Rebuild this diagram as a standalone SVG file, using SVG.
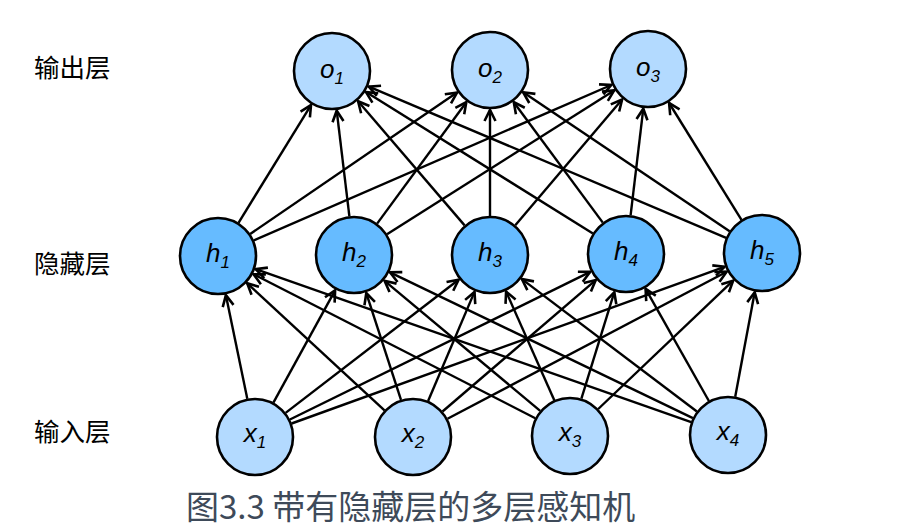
<svg xmlns="http://www.w3.org/2000/svg" width="923" height="530" viewBox="0 0 923 530">
<style>
.e{stroke:#000;stroke-width:2.4;fill:none;marker-end:url(#arr)}
.nl{fill:#b3daff;stroke:#000;stroke-width:2.6}
.nh{fill:#66bbff;stroke:#000;stroke-width:2.6}
.t{font-family:"Liberation Sans",Arial,sans-serif;font-style:italic;font-size:26px;fill:#000;text-anchor:middle}
.s{font-size:17px}
.lab{font-family:"Noto Sans CJK SC",sans-serif;font-size:25.5px;fill:#000}
.cap{font-family:"Noto Sans CJK SC",sans-serif;font-size:33px;fill:#3e4a59}
</style>
<defs>
<marker id="arr" markerUnits="userSpaceOnUse" viewBox="-14 -8 17 16" refX="0" refY="0" markerWidth="17" markerHeight="16" orient="auto" overflow="visible">
<path d="M-11,-5.5 L0,0 L-11,5.5" fill="none" stroke="#000" stroke-width="2.6"/>
</marker>
</defs>
<rect width="923" height="530" fill="#fff"/>
<g id="connectors">
<line class="e" x1="238.5" y1="222.8" x2="311.0" y2="105.1"/>
<line class="e" x1="250.2" y1="234.0" x2="457.0" y2="92.6"/>
<line class="e" x1="253.8" y1="240.4" x2="611.3" y2="85.0"/>
<line class="e" x1="349.4" y1="216.3" x2="336.7" y2="110.7"/>
<line class="e" x1="377.1" y1="223.6" x2="466.3" y2="102.2"/>
<line class="e" x1="387.0" y1="234.2" x2="614.2" y2="90.4"/>
<line class="e" x1="464.6" y1="225.4" x2="358.1" y2="101.3"/>
<line class="e" x1="490" y1="216" x2="490" y2="110"/>
<line class="e" x1="515.3" y1="225.3" x2="622.1" y2="99.5"/>
<line class="e" x1="592.9" y1="233.4" x2="366.0" y2="92.1"/>
<line class="e" x1="602.8" y1="222.6" x2="513.8" y2="102.2"/>
<line class="e" x1="630.6" y1="215.3" x2="643.3" y2="108.7"/>
<line class="e" x1="726.1" y1="237.8" x2="368.8" y2="86.6"/>
<line class="e" x1="729.6" y1="231.2" x2="523.2" y2="92.3"/>
<line class="e" x1="741.5" y1="219.9" x2="669.1" y2="103.0"/>
<line class="e" x1="247.3" y1="398.8" x2="225.9" y2="295.2"/>
<line class="e" x1="273.4" y1="402.6" x2="335.1" y2="290.3"/>
<line class="e" x1="285.6" y1="412.9" x2="458.6" y2="279.7"/>
<line class="e" x1="289.9" y1="419.5" x2="590.2" y2="271.9"/>
<line class="e" x1="291.6" y1="423.5" x2="724.5" y2="266.8"/>
<line class="e" x1="384.5" y1="410.4" x2="247.2" y2="283.3"/>
<line class="e" x1="401.0" y1="399.9" x2="366.3" y2="293.1"/>
<line class="e" x1="428.1" y1="401.0" x2="474.5" y2="291.9"/>
<line class="e" x1="442.5" y1="411.5" x2="595.7" y2="280.1"/>
<line class="e" x1="447.5" y1="418.7" x2="726.7" y2="271.7"/>
<line class="e" x1="535.3" y1="418.2" x2="253.6" y2="274.3"/>
<line class="e" x1="540.2" y1="410.9" x2="384.6" y2="280.8"/>
<line class="e" x1="554.3" y1="400.3" x2="506.1" y2="291.6"/>
<line class="e" x1="581.4" y1="398.7" x2="614.3" y2="292.2"/>
<line class="e" x1="598.2" y1="409.0" x2="733.1" y2="280.7"/>
<line class="e" x1="691.2" y1="422.1" x2="255.7" y2="269.2"/>
<line class="e" x1="692.9" y1="418.1" x2="390.0" y2="272.3"/>
<line class="e" x1="696.9" y1="411.5" x2="521.9" y2="279.1"/>
<line class="e" x1="708.9" y1="401.0" x2="645.6" y2="288.8"/>
<line class="e" x1="735.2" y1="396.7" x2="754.7" y2="292.3"/>
</g>
<g id="o1"><circle class="nl" cx="332" cy="71" r="38"/><text class="t" x="332" y="78">o<tspan class="s" dy="6">1</tspan></text></g>
<g id="o2"><circle class="nl" cx="490" cy="70" r="38"/><text class="t" x="490" y="77">o<tspan class="s" dy="6">2</tspan></text></g>
<g id="o3"><circle class="nl" cx="648" cy="69" r="38"/><text class="t" x="648" y="76">o<tspan class="s" dy="6">3</tspan></text></g>
<g id="h1"><circle class="nh" cx="218" cy="256" r="38"/><text class="t" x="218" y="262">h<tspan class="s" dy="6">1</tspan></text></g>
<g id="h2"><circle class="nh" cx="354" cy="255" r="38"/><text class="t" x="354" y="261">h<tspan class="s" dy="6">2</tspan></text></g>
<g id="h3"><circle class="nh" cx="490" cy="255" r="38"/><text class="t" x="490" y="261">h<tspan class="s" dy="6">3</tspan></text></g>
<g id="h4"><circle class="nh" cx="626" cy="254" r="38"/><text class="t" x="626" y="260">h<tspan class="s" dy="6">4</tspan></text></g>
<g id="h5"><circle class="nh" cx="762" cy="253" r="38"/><text class="t" x="762" y="259">h<tspan class="s" dy="6">5</tspan></text></g>
<g id="x1"><circle class="nl" cx="255" cy="437" r="38"/><text class="t" x="255" y="442">x<tspan class="s" dy="6">1</tspan></text></g>
<g id="x2"><circle class="nl" cx="413" cy="437" r="38"/><text class="t" x="413" y="442">x<tspan class="s" dy="6">2</tspan></text></g>
<g id="x3"><circle class="nl" cx="570" cy="436" r="38"/><text class="t" x="570" y="441">x<tspan class="s" dy="6">3</tspan></text></g>
<g id="x4"><circle class="nl" cx="728" cy="435" r="38"/><text class="t" x="728" y="440">x<tspan class="s" dy="6">4</tspan></text></g>
<g id="labels">
<text class="lab" x="34" y="77">输出层</text>
<text class="lab" x="34" y="273">隐藏层</text>
<text class="lab" x="34" y="441">输入层</text>
</g>
<text class="cap" x="186" y="519">图3.3 带有隐藏层的多层感知机</text>
</svg>
